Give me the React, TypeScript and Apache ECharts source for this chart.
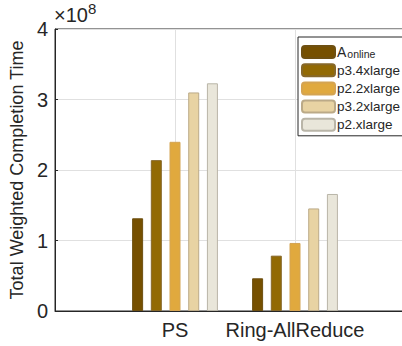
import React, { useEffect, useRef } from "react";
import * as echarts from "echarts";

const categories = ["", "PS", "Ring-AllReduce", ""];
const seriesNames = ["A_online", "p3.4xlarge", "p2.2xlarge", "p3.2xlarge", "p2.xlarge"];
const aOnline = [null, 131500000, 46400000, null];
const p34xlarge = [null, 214000000, 78500000, null];
const p22xlarge = [null, 240000000, 96500000, null];
const p32xlarge = [null, 310000000, 145500000, null];
const p2xlarge = [null, 323000000, 166000000, null];
const yTicks = [0, 1, 2, 3, 4];

const fills = ["#765000", "#926A04", "#E0A93E", "#E8D3A3", "#E9E6DA"];
const borders = ["#6E5012", "#86682A", "#D4A452", "#BBAA88", "#B9B5A8"];
const FONT = "'Liberation Sans', Arial, Helvetica, sans-serif";

export default function App() {
  const ref = useRef<HTMLDivElement>(null);
  useEffect(() => {
    if (!ref.current) return;
    const chart = echarts.init(ref.current, undefined, { renderer: "svg" });
    const data = [aOnline, p34xlarge, p22xlarge, p32xlarge, p2xlarge];
    chart.setOption({
      animation: false,
      backgroundColor: "#ffffff",
      textStyle: { fontFamily: FONT },
      grid: {
        left: 51,
        right: 25,
        top: 29,
        bottom: 35,
        show: true,
        borderColor: "#262626",
        borderWidth: 1,
        backgroundColor: "transparent",
      },
      legend: {
        orient: "vertical",
        left: 298,
        top: 37,
        itemWidth: 33,
        itemHeight: 12,
        itemGap: 4.2,
        padding: [0, 30, 4, 3],
        borderColor: "#262626",
        borderWidth: 1,
        backgroundColor: "#ffffff",
        selectedMode: false,
        data: seriesNames,
        formatter: (name: string) =>
          name === "A_online" ? "{a|A}{s|online}" : name,
        textStyle: {
          fontSize: 13.5,
          color: "#262626",
          fontFamily: FONT,
          padding: [0, 0, 0, -3],
          rich: {
            a: { fontSize: 14, lineHeight: 14, verticalAlign: "top", color: "#262626", fontFamily: FONT },
            s: { fontSize: 10.5, lineHeight: 6, verticalAlign: "bottom", padding: [11, 0, 0, 1], color: "#262626", fontFamily: FONT },
          },
        },
      },
      xAxis: {
        type: "category",
        data: categories,
        boundaryGap: false,
        axisLine: { lineStyle: { color: "#262626", width: 1 } },
        axisTick: { show: true, inside: true, length: 3, interval: 0, lineStyle: { color: "#262626" } },
        axisLabel: { fontSize: 20, color: "#262626", margin: 9, interval: 0, fontFamily: FONT },
        splitLine: { show: true, interval: 0, lineStyle: { color: "#E0E0E0", width: 1 } },
      },
      yAxis: {
        type: "value",
        min: 0,
        max: 400000000,
        interval: 100000000,
        name: "Total Weighted Completion Time",
        nameLocation: "middle",
        nameGap: 21,
        nameTextStyle: { fontSize: 18, color: "#262626", fontFamily: FONT },
        axisLine: { show: true, lineStyle: { color: "#262626", width: 1 } },
        axisTick: { show: true, inside: true, length: 3, lineStyle: { color: "#262626" } },
        axisLabel: {
          fontSize: 20,
          color: "#262626",
          margin: 7,
          fontFamily: FONT,
          formatter: (v: number) => String(yTicks[Math.round(v / 100000000)]),
        },
        splitLine: { show: true, lineStyle: { color: "#E0E0E0", width: 1 } },
      },
      graphic: [
        {
          type: "text",
          left: 54,
          top: 1,
          style: {
            text: "×10{s|8}",
            fontSize: 20,
            fill: "#262626",
            fontFamily: FONT,
            lineHeight: 28,
            rich: {
              s: { fontSize: 15, lineHeight: 15, verticalAlign: "top", fill: "#262626", fontFamily: FONT },
            },
          },
        },
      ],
      series: seriesNames.map((n, i) => ({
        name: n,
        type: "bar",
        data: data[i],
        barWidth: 11,
        barGap: "70%",
        itemStyle: { color: fills[i], borderColor: borders[i], borderWidth: 1 },
      })),
    });
    return () => chart.dispose();
  }, []);
  return (
    <div style={{ position: "fixed", left: 0, top: 0, width: 402, height: 346, overflow: "hidden", background: "#fff" }}>
      <div ref={ref} style={{ width: 440, height: 346 }} />
    </div>
  );
}
